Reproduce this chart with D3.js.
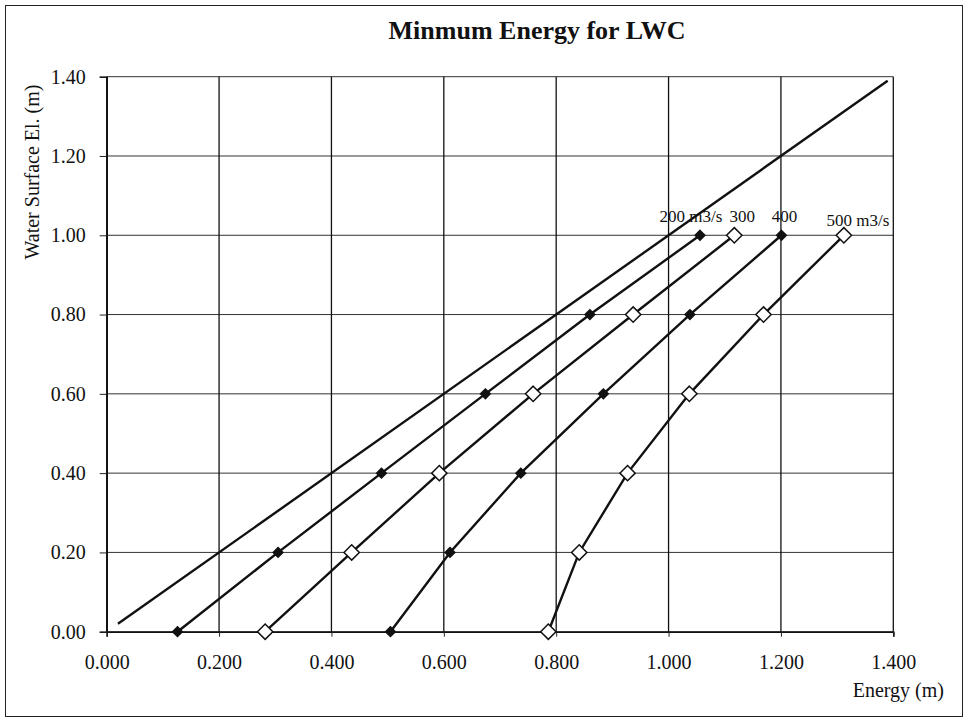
<!DOCTYPE html>
<html>
<head>
<meta charset="utf-8">
<script src="https://cdn.jsdelivr.net/npm/d3@7"></script>
<style>
  body { margin: 0; background: #fff; }
  text { font-family: "Liberation Serif", "Times New Roman", serif; fill: #111; }
</style>
</head>
<body>
<div id="chart"></div>
<script>
const depth = [0, 0.2, 0.4, 0.6, 0.8, 1.0]
const q200 = [0.126, 0.305, 0.489, 0.674, 0.860, 1.056]
const q300 = [0.282, 0.436, 0.592, 0.759, 0.937, 1.117]
const q400 = [0.505, 0.611, 0.737, 0.884, 1.038, 1.201]
const q500 = [0.786, 0.841, 0.927, 1.037, 1.169, 1.312]
const lineE = [0.02, 1.39]
const lineY = [0.02, 1.39]
const xTicks = [0, 0.2, 0.4, 0.6, 0.8, 1.0, 1.2, 1.4]
const yTicks = [0, 0.2, 0.4, 0.6, 0.8, 1.0, 1.2, 1.4]
const seriesNames = ['200 m3/s', '300', '400', '500 m3/s']

const width = 967
const height = 721
const plot = { left: 106.7, right: 893.3, top: 76.7, bottom: 631.7 }

const x = d3.scaleLinear().domain([0, 1.4]).range([plot.left, plot.right])
const y = d3.scaleLinear().domain([0, 1.4]).range([plot.bottom, plot.top])

const svg = d3.select('#chart').append('svg')
              .attr('width', width)
              .attr('height', height)

svg.append('rect')
   .attr('x', 5.5).attr('y', 5.5)
   .attr('width', 957).attr('height', 711)
   .attr('fill', 'none')
   .attr('stroke', '#222')

svg.append('text')
   .attr('x', 537).attr('y', 39)
   .attr('text-anchor', 'middle')
   .style('font-size', '26px')
   .style('font-weight', 'bold')
   .text('Minmum Energy for LWC')

// grid
svg.append('g')
   .selectAll('line')
   .data(yTicks)
   .join('line')
   .attr('x1', plot.left).attr('x2', plot.right)
   .attr('y1', d => y(d)).attr('y2', d => y(d))
   .attr('stroke', '#333')
   .attr('stroke-width', 1)
svg.append('g')
   .selectAll('line')
   .data(xTicks)
   .join('line')
   .attr('x1', d => x(d)).attr('x2', d => x(d))
   .attr('y1', plot.top).attr('y2', plot.bottom)
   .attr('stroke', '#111')
   .attr('stroke-width', 1.3)

const yAxis = svg.append('g')
   .attr('transform', `translate(${plot.left},0)`)
   .call(d3.axisLeft(y).tickValues(yTicks).tickFormat(d3.format('.2f')).tickSize(7).tickPadding(14))
const xAxis = svg.append('g')
   .attr('transform', `translate(0,${plot.bottom})`)
   .call(d3.axisBottom(x).tickValues(xTicks).tickFormat(d3.format('.3f')).tickSize(5).tickPadding(18))
svg.selectAll('.domain').attr('stroke', '#111').attr('stroke-width', 1.6)
svg.selectAll('.tick line').attr('stroke', '#222')
svg.selectAll('.tick text')
   .style('font-family', '"Liberation Serif", serif')
   .style('font-size', '20px')
   .attr('fill', '#111')

svg.append('text')
   .attr('transform', 'translate(39,172) rotate(-90)')
   .attr('text-anchor', 'middle')
   .style('font-size', '20px')
   .text('Water Surface El. (m)')

svg.append('text')
   .attr('x', 944).attr('y', 697)
   .attr('text-anchor', 'end')
   .style('font-size', '20px')
   .text('Energy (m)')

const line = d3.line().x(d => x(d[0])).y(d => y(d[1]))

svg.append('path')
   .datum(d3.zip(lineE, lineY))
   .attr('d', line)
   .attr('fill', 'none')
   .attr('stroke', '#111')
   .attr('stroke-width', 2.4)

const series = [q200, q300, q400, q500]
const filled = [true, false, true, false]
const labelDx = [-9, 8, 3, 14]
const labelDy = [-13, -13, -13, -9]

series.forEach((s, i) => {
    const pts = d3.zip(s, depth)
    svg.append('path')
       .datum(pts)
       .attr('d', line)
       .attr('fill', 'none')
       .attr('stroke', '#111')
       .attr('stroke-width', 2.4)
    svg.append('g')
       .selectAll('path')
       .data(pts)
       .join('path')
       .attr('transform', d => `translate(${x(d[0])},${y(d[1])})`)
       .attr('d', d3.symbol(d3.symbolDiamond2, filled[i] ? 60 : 150))
       .attr('fill', filled[i] ? '#111' : '#fff')
       .attr('stroke', '#111')
       .attr('stroke-width', 1.5)
    const last = pts[pts.length - 1]
    svg.append('text')
       .attr('x', x(last[0]) + labelDx[i])
       .attr('y', y(last[1]) + labelDy[i])
       .attr('text-anchor', 'middle')
       .style('font-size', '17px')
       .text(seriesNames[i])
})
</script>
</body>
</html>
